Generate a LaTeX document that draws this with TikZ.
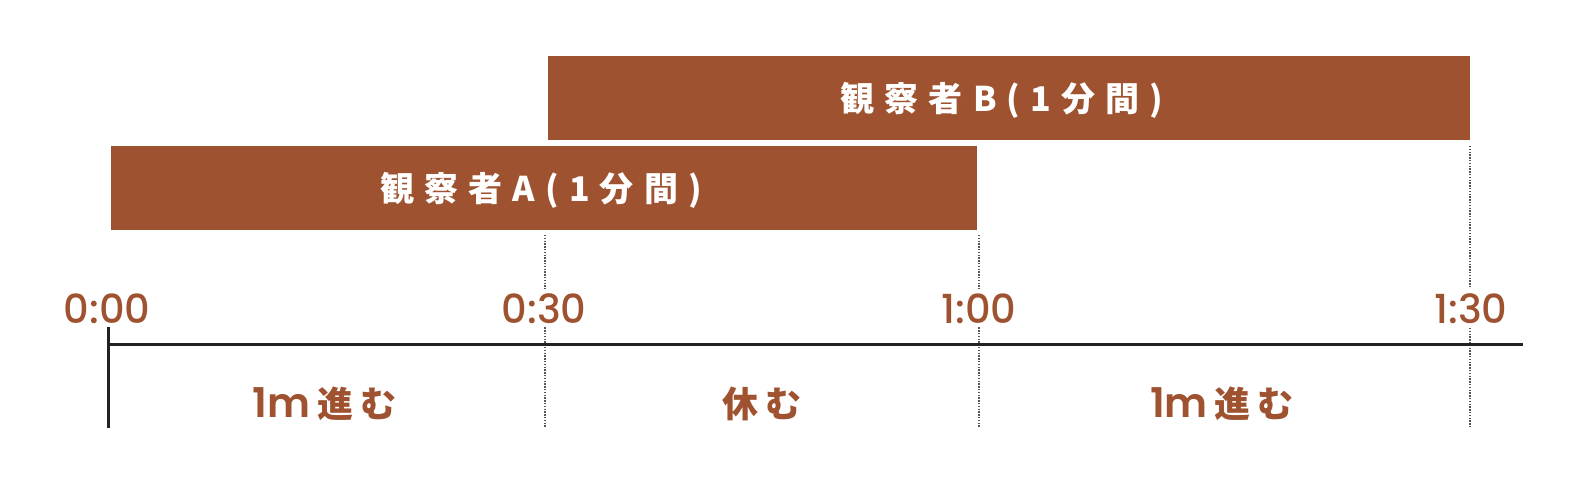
\documentclass[tikz,border=0pt]{standalone}
\usepackage{fontspec}
\newfontfamily\cjk{Noto Sans CJK JP}
\newfontfamily\pop{Poppins}[UprightFont=* Medium, BoldFont=* SemiBold]
\definecolor{brn}{RGB}{159,82,47}
\definecolor{axisc}{RGB}{34,34,34}
\definecolor{dotc}{RGB}{85,85,85}
\begin{document}
\begin{tikzpicture}[x=1pt,y=-1pt]
\tikzset{
  barfill/.style={fill=brn, draw=none},
  bartext/.style={text=white, anchor=base, inner sep=0pt,
    font=\cjk\bfseries\fontsize{34}{34}\selectfont\addfontfeature{LetterSpace=30}},
  timelab/.style={text=brn, anchor=base, fill=white, inner xsep=3pt, inner ysep=4pt,
    font=\pop\fontsize{40}{40}\selectfont},
  steplab/.style={text=brn, anchor=base, inner sep=0pt},
  guide/.style={draw=dotc, line width=1.5pt, dash pattern=on 1.4pt off 1.4pt},
  axisline/.style={draw=axisc, line width=3pt}
}
\useasboundingbox (0,0) rectangle (1582,487);
% bars
\fill[barfill] (111,146) rectangle (977,230);
\fill[barfill] (548,56) rectangle (1470,140);
\node[bartext] (tA) at (541,201) {観察者A(1分間)};
\node[bartext] (tB) at (1002,111) {観察者B(1分間)};
% guide coordinates
\coordinate (g1top) at (545,235);
\coordinate (g1bot) at (545,428);
\coordinate (g2top) at (979,235);
\coordinate (g2bot) at (979,428);
\coordinate (g3top) at (1470,146);
\coordinate (g3bot) at (1470,428);
\draw[guide] (g1top) -- (g1bot);
\draw[guide] (g2top) -- (g2bot);
\draw[guide] (g3top) -- (g3bot);
% axis
\coordinate (ax0) at (108.7,344);
\coordinate (ax1) at (1523,344);
\coordinate (tk0) at (108.7,327);
\coordinate (tk1) at (108.7,428);
\draw[axisline] (ax0) -- (ax1);
\draw[axisline] (tk0) -- (tk1);
% time labels
\node[timelab] (l0) at (107,323) {0:00};
\node[timelab] (l1) at (544,323) {0:30};
\node[timelab] (l2) at (979,323) {1:00};
\node[timelab] (l3) at (1471,323) {1:30};
% step labels
\node[steplab] (s1) at (325,417) {{\pop\bfseries\fontsize{41}{41}\selectfont 1m}\hspace{7pt}{\cjk\bfseries\fontsize{36}{36}\selectfont\addfontfeature{LetterSpace=20}進む}};
\node[steplab] (s2) at (762,417) {{\cjk\bfseries\fontsize{36}{36}\selectfont\addfontfeature{LetterSpace=20}休む}};
\node[steplab] (s3) at (1222,417) {{\pop\bfseries\fontsize{41}{41}\selectfont 1m}\hspace{7pt}{\cjk\bfseries\fontsize{36}{36}\selectfont\addfontfeature{LetterSpace=20}進む}};
\end{tikzpicture}
\end{document}
